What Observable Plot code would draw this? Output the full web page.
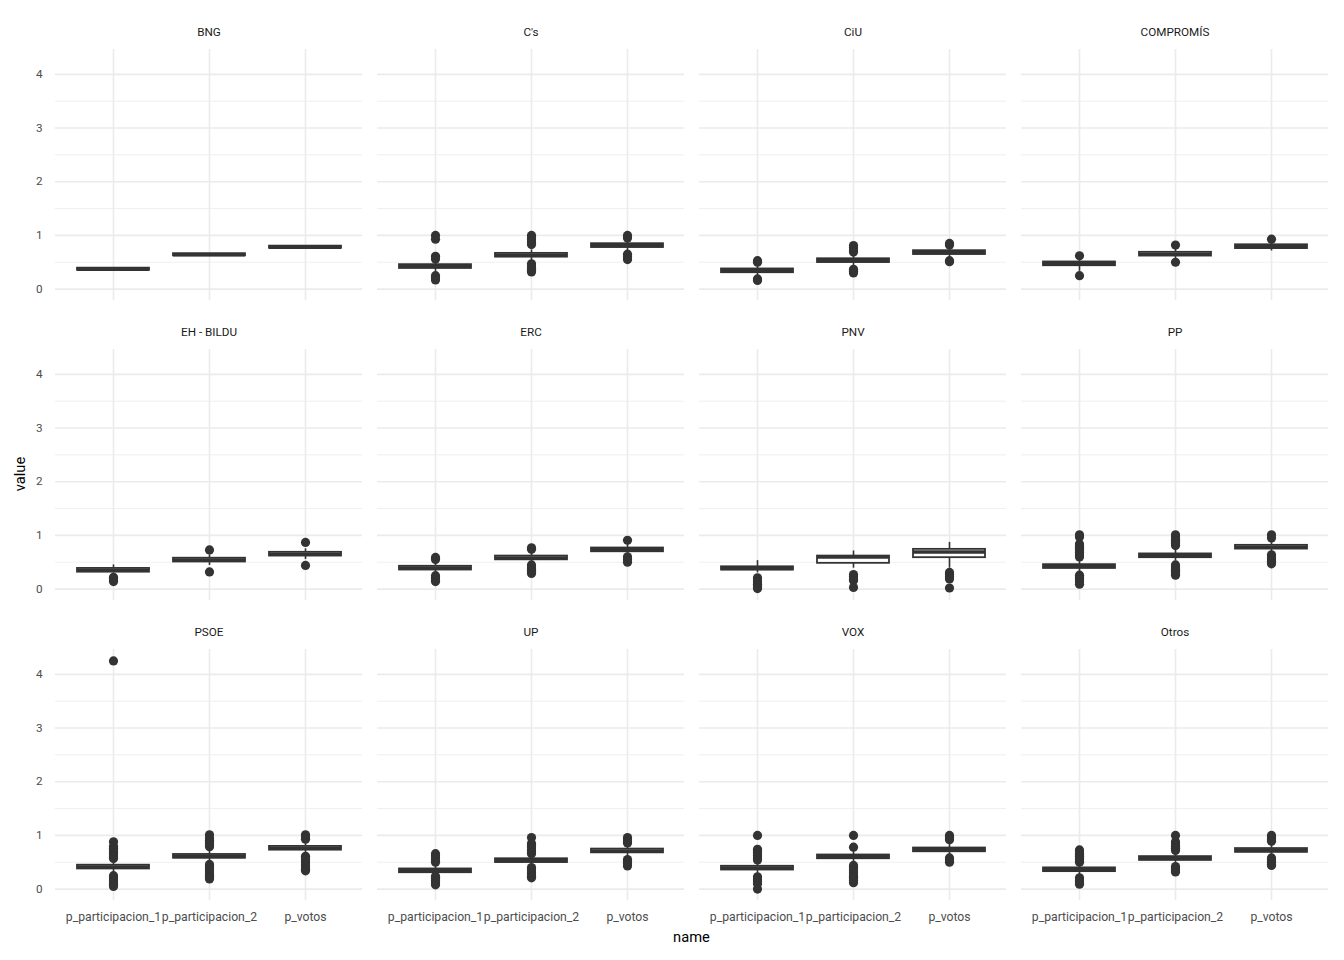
<!DOCTYPE html>
<html><head><meta charset="utf-8">
<script src="https://cdn.jsdelivr.net/npm/d3@7"></script>
<script src="https://cdn.jsdelivr.net/npm/@observablehq/plot@0.6"></script>
<style>body{margin:0;background:#fff;} #chart{width:1344px;height:960px;}</style>
</head><body><div id="chart"></div>
<script>
const parties = ["BNG","C's","CiU","COMPROMÍS","EH - BILDU","ERC","PNV","PP","PSOE","UP","VOX","Otros"];
const names = ["p_participacion_1","p_participacion_2","p_votos"];
const yTicks = [0,1,2,3,4];
const yMinorTicks = [0.5,1.5,2.5,3.5];

const medians = [
  [0.37,0.64,0.78],[0.42,0.63,0.81],[0.34,0.53,0.68],[0.47,0.65,0.79],
  [0.35,0.54,0.65],[0.39,0.58,0.73],[0.385,0.60,0.69],[0.42,0.62,0.78],
  [0.41,0.61,0.76],[0.34,0.53,0.71],[0.39,0.60,0.73],[0.36,0.57,0.72]
];
const q1s = [
  [0.35,0.62,0.76],[0.385,0.595,0.775],[0.305,0.495,0.645],[0.435,0.615,0.755],
  [0.315,0.505,0.615],[0.355,0.545,0.695],[0.355,0.48,0.585],[0.385,0.585,0.745],
  [0.375,0.575,0.725],[0.305,0.495,0.675],[0.355,0.565,0.695],[0.325,0.535,0.685]
];
const q3s = [
  [0.39,0.66,0.80],[0.455,0.665,0.845],[0.375,0.565,0.715],[0.505,0.685,0.825],
  [0.385,0.575,0.685],[0.425,0.615,0.765],[0.415,0.615,0.74],[0.455,0.655,0.815],
  [0.445,0.645,0.795],[0.375,0.565,0.745],[0.425,0.635,0.765],[0.395,0.605,0.755]
];
const whiskerLo = [
  [0.35,0.62,0.76],[0.32,0.53,0.71],[0.24,0.43,0.58],[0.33,0.55,0.71],
  [0.30,0.44,0.55],[0.29,0.48,0.63],[0.30,0.39,0.39],[0.32,0.52,0.68],
  [0.31,0.51,0.66],[0.24,0.43,0.61],[0.29,0.50,0.63],[0.26,0.47,0.62]
];
const whiskerHi = [
  [0.39,0.66,0.80],[0.52,0.73,0.91],[0.44,0.63,0.78],[0.53,0.74,0.86],
  [0.45,0.64,0.75],[0.49,0.68,0.83],[0.53,0.71,0.87],[0.52,0.72,0.88],
  [0.51,0.71,0.86],[0.44,0.63,0.81],[0.49,0.70,0.83],[0.46,0.67,0.82]
];
const outliers = [
  [[],[],[]],
  [[1.0,0.93,0.61,0.56,0.25,0.21,0.17],[1.0,0.96,0.92,0.87,0.83,0.47,0.43,0.39,0.35,0.32],[1.0,0.95,0.65,0.60,0.55]],
  [[0.53,0.50,0.19,0.16],[0.81,0.77,0.73,0.69,0.37,0.33,0.30],[0.85,0.82,0.53,0.51]],
  [[0.62,0.25],[0.82,0.50],[0.93]],
  [[0.22,0.18,0.14],[0.73,0.32],[0.87,0.44]],
  [[0.59,0.55,0.25,0.21,0.17,0.14],[0.77,0.74,0.45,0.41,0.37,0.33,0.29],[0.91,0.60,0.55,0.50]],
  [[0.21,0.17,0.13,0.09,0.05,0.01],[0.27,0.23,0.19,0.16,0.03],[0.31,0.27,0.23,0.19,0.02]],
  [[1.01,0.97,0.84,0.80,0.76,0.72,0.68,0.64,0.60,0.26,0.22,0.18,0.14,0.09],[1.01,0.97,0.93,0.89,0.85,0.81,0.45,0.41,0.37,0.33,0.29,0.26],[1.01,0.95,0.64,0.60,0.56,0.52,0.47]],
  [[4.25,0.88,0.80,0.76,0.72,0.68,0.64,0.60,0.57,0.25,0.21,0.17,0.13,0.09,0.05],[1.01,0.95,0.91,0.87,0.83,0.79,0.46,0.42,0.38,0.34,0.30,0.26,0.22,0.19],[1.01,0.97,0.93,0.61,0.57,0.53,0.49,0.45,0.41,0.37,0.34]],
  [[0.66,0.62,0.58,0.54,0.50,0.24,0.20,0.16,0.12,0.08],[0.96,0.85,0.81,0.77,0.73,0.69,0.66,0.40,0.36,0.32,0.28,0.24,0.21],[0.96,0.92,0.88,0.86,0.55,0.51,0.47,0.43]],
  [[1.0,0.74,0.70,0.66,0.62,0.58,0.54,0.23,0.19,0.15,0.10,0.0],[1.0,0.78,0.44,0.40,0.36,0.32,0.28,0.24,0.20,0.16,0.12],[1.0,0.96,0.92,0.58,0.54,0.50]],
  [[0.73,0.69,0.65,0.61,0.57,0.53,0.50,0.21,0.17,0.13,0.09],[1.0,0.88,0.84,0.80,0.76,0.72,0.42,0.38,0.34,0.32],[1.0,0.96,0.92,0.89,0.58,0.54,0.50,0.46,0.44]]
];

const boxes = parties.flatMap((p,i) => names.map((n,j) => ({
  party:p, name:n, col:i%4, row:Math.floor(i/4),
  q1:q1s[i][j], med:medians[i][j], q3:q3s[i][j], lo:whiskerLo[i][j], hi:whiskerHi[i][j]
})));
const points = parties.flatMap((p,i) => names.flatMap((n,j) => outliers[i][j].map(v => ({
  party:p, name:n, col:i%4, row:Math.floor(i/4), value:v
}))));
const strips = parties.map((p,i) => ({party:p, col:i%4, row:Math.floor(i/4)}));

const ink = "#333333";
const chart = Plot.plot({
  width:1344, height:960,
  marginLeft:55, marginRight:16, marginTop:48, marginBottom:60,
  style:"font-family: Roboto, sans-serif; background: white;",
  fx:{domain:[0,1,2,3], paddingInner:15/322, paddingOuter:0, axis:null},
  fy:{domain:[0,1,2], paddingInner:99/601, paddingOuter:0, axis:null},
  x:{type:"band", domain:names, paddingInner:0.25, paddingOuter:0.21},
  y:{domain:[-0.2125, 4.4625]},
  marks:[
    Plot.gridY(yMinorTicks, {stroke:"#EBEBEB", strokeOpacity:1, strokeWidth:0.8}),
    Plot.gridY(yTicks, {stroke:"#EBEBEB", strokeOpacity:1, strokeWidth:1.6}),
    Plot.gridX({stroke:"#EBEBEB", strokeOpacity:1, strokeWidth:1.6}),
    Plot.axisY(yTicks, {facetAnchor:"left", tickSize:0, tickPadding:13, fontSize:11.7, color:"#4D4D4D", label:null, tickFormat:d => String(d)}),
    Plot.axisX({facetAnchor:"bottom", tickSize:0, tickPadding:12, fontSize:12.2, color:"#4D4D4D", label:null}),
    Plot.ruleX(boxes, {x:"name", y1:"lo", y2:"hi", fx:"col", fy:"row", stroke:ink, strokeWidth:1.6}),
    Plot.barY(boxes, {x:"name", y1:"q1", y2:"q3", fx:"col", fy:"row", fill:"white", stroke:ink, strokeWidth:1.8}),
    Plot.tickY(boxes, {x:"name", y:"med", fx:"col", fy:"row", stroke:ink, strokeWidth:3.6}),
    Plot.dot(points, {x:"name", y:"value", fx:"col", fy:"row", r:4.6, fill:ink, stroke:"none"}),
    Plot.text(strips, {text:"party", fx:"col", fy:"row", frameAnchor:"top", lineAnchor:"middle", dy:-17, fontSize:11.7, fill:"#1A1A1A"})
  ]
});
const svg = d3.select(chart);
svg.append("text").attr("x", 691.5).attr("y", 942).attr("text-anchor","middle")
  .attr("font-size", 14.7).attr("fill","#000").text("name");
svg.append("text").attr("transform","translate(25,474) rotate(-90)").attr("text-anchor","middle")
  .attr("font-size", 14.7).attr("fill","#000").text("value");
document.getElementById("chart").appendChild(chart);
</script>
</body></html>
